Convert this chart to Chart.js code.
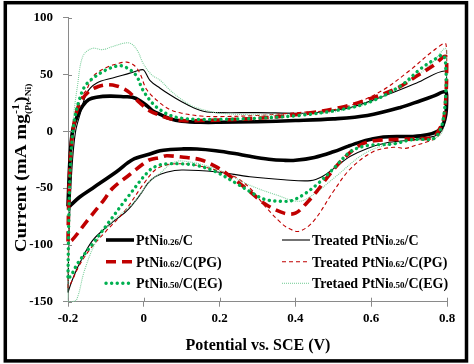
<!DOCTYPE html>
<html>
<head>
<meta charset="utf-8">
<script src="https://cdn.jsdelivr.net/npm/chart.js@4.4.0/dist/chart.umd.min.js"></script>
<style>
  html, body { margin: 0; padding: 0; background: #fff; }
  #wrap { position: relative; width: 474px; height: 364px; }
</style>
</head>
<body>
<div id="wrap"><canvas id="cvChart" width="474" height="364"></canvas></div>
<script>
// Cyclic voltammograms, one loop per catalyst:
// forward scan -0.2 -> 0.8 V (upper branch), then reverse back to -0.2 V (lower branch)

// PtNi0.26/C
const potential_A = [-0.2, -0.197, -0.193, -0.187, -0.175, -0.161, -0.145, -0.125, -0.09, -0.05, -0.03, -0.01, 0.01, 0.024, 0.043, 0.07, 0.1, 0.15, 0.2, 0.3, 0.4, 0.5, 0.59, 0.677, 0.73, 0.764, 0.797,
  0.799, 0.797, 0.79, 0.78, 0.76, 0.73, 0.71, 0.68, 0.632, 0.6, 0.571, 0.54, 0.5, 0.45, 0.4, 0.37, 0.33, 0.28, 0.24, 0.19, 0.14, 0.1, 0.07, 0.043, 0.016, -0.03, -0.072, -0.135, -0.17, -0.196];
const current_A = [-66, -40, -15, 2, 14, 22.6, 28, 30, 31, 30.5, 30, 27, 22, 18, 15, 11, 9, 8, 8, 8.5, 9.5, 11, 14, 21, 27, 31, 35,
  28, 15, 6, 1, -2, -4, -4.5, -4.5, -5, -7, -9.5, -13, -18, -23, -25.5, -25.5, -24.5, -22, -19.5, -17, -15.5, -15.5, -16, -17, -20, -25, -35.6, -50, -58, -66];

// PtNi0.62/C(PG)
const potential_B = [-0.2, -0.198, -0.194, -0.189, -0.182, -0.169, -0.143, -0.12, -0.098, -0.072, -0.05, -0.037, -0.01, 0.016, 0.043, 0.07, 0.1, 0.15, 0.2, 0.3, 0.41, 0.519, 0.59, 0.668, 0.72, 0.764, 0.797,
  0.799, 0.797, 0.792, 0.78, 0.764, 0.72, 0.677, 0.615, 0.571, 0.527, 0.49, 0.456, 0.43, 0.4, 0.37, 0.32, 0.28, 0.23, 0.19, 0.15, 0.1, 0.06, 0.043, 0.016, -0.003, -0.037, -0.082, -0.108, -0.15, -0.19, -0.2];
const current_B = [-97, -60, -25, -5, 10.5, 25, 35.7, 39.5, 41, 40, 37, 34, 25, 18, 14, 11, 9.5, 9.5, 10, 11.5, 15, 21, 28, 38, 48.7, 58, 66,
  50, 30, 12, 2, -5, -6.5, -7, -8, -12, -24, -38, -53, -63, -72, -72, -64, -53, -40, -31, -25, -22.6, -21.5, -23, -25, -29, -38, -50, -61.6, -79, -96, -97];

// PtNi0.50/C(EG)
const potential_C = [-0.2, -0.198, -0.195, -0.19, -0.183, -0.17, -0.155, -0.133, -0.1, -0.063, -0.04, -0.019, -0.005, 0.008, 0.025, 0.043, 0.07, 0.1, 0.15, 0.2, 0.3, 0.41, 0.5, 0.59, 0.677, 0.73, 0.764, 0.79,
  0.797, 0.797, 0.792, 0.783, 0.764, 0.73, 0.703, 0.66, 0.59, 0.545, 0.5, 0.456, 0.42, 0.39, 0.37, 0.32, 0.28, 0.245, 0.19, 0.14, 0.1, 0.06, 0.043, 0.016, -0.045, -0.09, -0.135, -0.174, -0.194, -0.2];
const current_C = [-128, -80, -40, -10, 10, 28, 40, 47, 54, 57.8, 55, 48.7, 38, 31, 24, 19, 14, 11.5, 10.5, 10.5, 11.5, 14, 18, 25, 40, 55, 62.6, 67,
  55, 35, 15, 2, -6.5, -7, -7.5, -11, -12.5, -18, -33, -47, -56, -61, -61.6, -60, -53, -46, -35.6, -30, -28.6, -28.6, -29.5, -34, -59, -79, -99, -116, -128, -128];

// Treated PtNi0.26/C
const potential_D = [-0.2, -0.198, -0.194, -0.188, -0.18, -0.169, -0.15, -0.124, -0.082, -0.037, -0.01, 0.0, 0.016, 0.043, 0.07, 0.1, 0.13, 0.16, 0.2, 0.3, 0.41, 0.456, 0.545, 0.632, 0.72, 0.797,
  0.799, 0.797, 0.79, 0.775, 0.75, 0.695, 0.641, 0.59, 0.545, 0.5, 0.47, 0.44, 0.37, 0.28, 0.19, 0.1, 0.06, 0.03, 0.01, -0.01, -0.045, -0.09, -0.135, -0.169, -0.19, -0.2];
const current_D = [-142, -100, -60, -25, 0, 14, 34, 42.6, 47, 51.3, 54, 54, 45, 38, 32, 26, 21, 17.5, 16.5, 16.5, 16, 16.6, 21, 31, 42.6, 53,
  35, 15, 3, -3, -5.5, -8, -10, -15, -22, -33, -40, -43.4, -42.6, -40, -35.6, -34, -36, -40, -46, -56, -70, -82, -96, -116, -132, -142];

// Treated PtNi0.62/C(PG)
const potential_E = [-0.2, -0.198, -0.195, -0.19, -0.18, -0.165, -0.151, -0.133, -0.1, -0.07, -0.045, -0.025, -0.01, 0.008, 0.043, 0.07, 0.1, 0.15, 0.2, 0.3, 0.41, 0.5, 0.562, 0.632, 0.703, 0.764, 0.797,
  0.799, 0.797, 0.79, 0.775, 0.75, 0.72, 0.69, 0.66, 0.605, 0.545, 0.5, 0.448, 0.41, 0.38, 0.36, 0.32, 0.28, 0.24, 0.19, 0.14, 0.1, 0.06, 0.03, 0.0, -0.05, -0.1, -0.14, -0.17, -0.19, -0.2];
const current_E = [-138, -90, -50, -15, 10, 30, 36.6, 48.7, 56, 59.5, 61, 58, 51, 36.6, 25, 19, 16, 13.5, 13, 14, 16.6, 19, 25, 36.6, 54, 71, 77,
  55, 25, 5, -5, -9, -12, -15, -14, -18, -33, -53, -79, -88, -85, -80, -66, -50, -40, -34, -30, -28.5, -29.5, -34, -46, -70, -88, -103, -118, -132, -138];

// Tretaed PtNi0.50/C(EG)
const potential_F = [-0.2, -0.199, -0.196, -0.192, -0.187, -0.175, -0.161, -0.137, -0.108, -0.082, -0.045, -0.03, -0.015, -0.002, 0.02, 0.043, 0.07, 0.1, 0.13, 0.17, 0.2, 0.3, 0.41, 0.5, 0.6, 0.7, 0.76, 0.797,
  0.799, 0.797, 0.79, 0.775, 0.747, 0.72, 0.677, 0.59, 0.5, 0.45, 0.41, 0.35, 0.28, 0.19, 0.1, 0.07, 0.043, 0.016, -0.03, -0.082, -0.124, -0.156, -0.177, -0.19, -0.2];
const current_F = [-150, -110, -60, -25, 7.9, 40, 66, 73, 72, 74.8, 78, 76.5, 70, 60, 50, 45, 36, 28, 22, 18, 16, 14.5, 15, 17, 26, 44, 60, 73,
  50, 20, 2, -5, -7, -8, -9.5, -18, -41.6, -55, -61.6, -56, -47.5, -33, -26, -29, -37, -44, -64, -79, -96, -122, -148, -150, -150];

// legend entries: [main, subscript, tail]
const seriesNames = [
  ['PtNi', '0.26', '/C'],
  ['PtNi', '0.62', '/C(PG)'],
  ['PtNi', '0.50', '/C(EG)'],
  ['Treated PtNi', '0.26', '/C'],
  ['Treated PtNi', '0.62', '/C(PG)'],
  ['Tretaed PtNi', '0.50', '/C(EG)']
];

const xTicks = [-0.2, 0, 0.2, 0.4, 0.6, 0.8];
const yTicks = [-150, -100, -50, 0, 50, 100];

const axisGrey = '#8a8a8a';
const serifFont = "'Liberation Serif', 'Times New Roman', serif";

const styles = [
  { color: '#000000', width: 3.6, dash: [], cap: 'butt' },
  { color: '#c00000', width: 3.6, dash: [10, 6], cap: 'butt' },
  { color: '#00b050', width: 3.4, dash: [0.1, 5.5], cap: 'round' },
  { color: '#000000', width: 1.1, dash: [], cap: 'butt' },
  { color: '#c00000', width: 1.1, dash: [4, 3], cap: 'butt' },
  { color: '#7ccf9c', width: 1.1, dash: [1, 1], cap: 'butt' }
];

function toPoints(xs, ys) {
  return xs.map((x, i) => ({ x: x, y: ys[i] }));
}

const loops = [
  toPoints(potential_A, current_A),
  toPoints(potential_B, current_B),
  toPoints(potential_C, current_C),
  toPoints(potential_D, current_D),
  toPoints(potential_E, current_E),
  toPoints(potential_F, current_F)
];

// draw order: thin lines underneath, thick ones on top
const drawOrder = [3, 2, 1, 6, 5, 4];

const datasets = loops.map((pts, i) => ({
  label: seriesNames[i].join(''),
  data: pts,
  showLine: true,
  borderColor: styles[i].color,
  borderWidth: styles[i].width,
  borderDash: styles[i].dash,
  borderCapStyle: styles[i].cap,
  pointRadius: 0,
  tension: 0.35,
  fill: false,
  clip: false,
  order: drawOrder[i]
}));

function drawRich(ctx, parts, x, y) {
  // parts: [text, size, dy]
  parts.forEach(p => {
    ctx.font = 'bold ' + p[1] + 'px ' + serifFont;
    ctx.fillText(p[0], x, y + p[2]);
    x += ctx.measureText(p[0]).width;
  });
  return x;
}

const overlay = {
  id: 'overlay',
  afterDraw(chart) {
    const ctx = chart.ctx;
    const area = chart.chartArea;
    const xs = chart.scales.x, ys = chart.scales.y;
    ctx.save();

    // inner halves of the tick marks
    ctx.strokeStyle = axisGrey;
    ctx.lineWidth = 1;
    ctx.setLineDash([]);
    ctx.beginPath();
    xTicks.forEach(v => {
      const px = Math.round(xs.getPixelForValue(v)) + 0.5;
      ctx.moveTo(px, area.bottom);
      ctx.lineTo(px, area.bottom - 4);
    });
    yTicks.forEach(v => {
      const py = Math.round(ys.getPixelForValue(v)) + 0.5;
      ctx.moveTo(area.left, py);
      ctx.lineTo(area.left + 4, py);
    });
    ctx.stroke();

    // axis titles
    ctx.fillStyle = '#000';
    ctx.textBaseline = 'alphabetic';
    ctx.font = 'bold 16px ' + serifFont;
    ctx.textAlign = 'center';
    ctx.fillText('Potential vs. SCE (V)', 258, 350);

    // y title, a little stretched along its length like the source
    ctx.textAlign = 'left';
    ctx.save();
    ctx.translate(25.5, 175);
    ctx.rotate(-Math.PI / 2);
    ctx.scale(1.2, 1);
    ctx.font = 'bold 16px ' + serifFont;
    const mainTxt = 'Current (mA mg';
    const wMain = ctx.measureText(mainTxt).width;
    ctx.font = 'bold 10px ' + serifFont;
    const wSup = ctx.measureText('-1').width;
    ctx.font = 'bold 16px ' + serifFont;
    const wClose = ctx.measureText(')').width;
    const total = wMain + wSup + wClose;
    let x0 = -total / 2;
    ctx.fillText(mainTxt, x0, 0);
    x0 += wMain;
    ctx.font = 'bold 10px ' + serifFont;
    ctx.fillText('-1', x0, -7);
    ctx.font = 'bold 8px ' + serifFont;
    ctx.fillText('(Pt+Ni)', x0, 5);
    ctx.font = 'bold 16px ' + serifFont;
    ctx.fillText(')', x0 + wSup + 1, 0);
    ctx.restore();

    // legend, two columns of three
    const colX = [[106, 134], [282, 310]];
    const rowY = [240, 261.7, 283.3];
    for (let i = 0; i < 6; i++) {
      const c = i < 3 ? 0 : 1;
      const r = i % 3;
      const st = styles[i];
      ctx.beginPath();
      ctx.strokeStyle = st.color;
      ctx.lineWidth = st.width;
      ctx.lineCap = st.cap;
      ctx.setLineDash(st.dash);
      ctx.moveTo(colX[c][0], rowY[r]);
      ctx.lineTo(colX[c][1], rowY[r]);
      ctx.stroke();
      ctx.setLineDash([]);
      ctx.lineCap = 'butt';
      ctx.fillStyle = '#000';
      const nm = seriesNames[i];
      drawRich(ctx, [[nm[0], 14, 0], [nm[1], 9, 0], [nm[2], 14, 0]], colX[c][1] + 2, rowY[r] + 5);
    }

    // picture frame
    ctx.strokeStyle = '#000';
    ctx.lineWidth = 3.5;
    ctx.strokeRect(5.3, 2.7, 461.2, 358.2);
    ctx.restore();
  }
};

new Chart(document.getElementById('cvChart'), {
  type: 'scatter',
  data: { datasets: datasets },
  options: {
    responsive: false,
    devicePixelRatio: 1,
    animation: false,
    layout: { padding: { left: 0, right: 27, top: 14, bottom: 0 } },
    plugins: {
      legend: { display: false },
      tooltip: { enabled: false }
    },
    scales: {
      x: {
        type: 'linear',
        min: -0.2,
        max: 0.8,
        afterBuildTicks: s => { s.ticks = xTicks.map(v => ({ value: v })); },
        afterFit: s => { s.height = 62.3; },
        ticks: {
          color: '#000',
          padding: 4,
          font: { family: serifFont, size: 13, weight: 'bold' },
          callback: v => (Math.abs(v) < 1e-9 ? '0' : v.toFixed(1))
        },
        grid: { drawOnChartArea: false, tickLength: 5, color: axisGrey },
        border: { color: axisGrey, width: 1 }
      },
      y: {
        type: 'linear',
        min: -150,
        max: 100,
        afterBuildTicks: s => { s.ticks = yTicks.map(v => ({ value: v })); },
        afterFit: s => { s.width = 68; },
        ticks: {
          color: '#000',
          padding: 10,
          font: { family: serifFont, size: 13, weight: 'bold' },
          callback: v => String(v)
        },
        grid: { drawOnChartArea: false, tickLength: 5, color: axisGrey },
        border: { color: axisGrey, width: 1 }
      }
    }
  },
  plugins: [overlay]
});
</script>
</body>
</html>
